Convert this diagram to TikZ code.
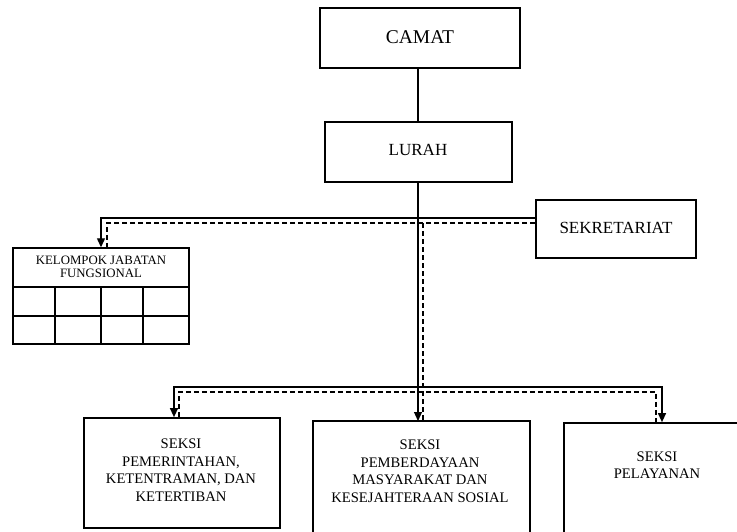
\documentclass[tikz,border=0pt]{standalone}
\usepackage{fontspec}
\setmainfont{Liberation Serif}
\usetikzlibrary{arrows.meta}
\tikzset{
  orgbox/.style={draw, line width=1.7pt, inner sep=0pt},
  conn/.style={line width=1.2pt},
  dconn/.style={line width=1.2pt, dash pattern=on 5pt off 3pt},
  tip/.style={-{Triangle[width=8pt,length=9pt]}},
  bigtxt/.style={font=\fontsize{19.5}{22}\selectfont},
  midtxt/.style={font=\fontsize{17}{20}\selectfont},
  smalltxt/.style={align=center, font=\fontsize{12.8}{13}\selectfont},
  seksitxt/.style={align=center, font=\fontsize{14.6}{17.5}\selectfont},
}
\begin{document}
\begin{tikzpicture}[x=1pt,y=-1pt]
\useasboundingbox[fill=white] (0,0) rectangle (737,532);
\clip (0,0) rectangle (737,532);
% top boxes
\node[orgbox, minimum width=200pt, minimum height=60pt] (camat) at (420,38) {};
\node[bigtxt] (camatt) at (420,37) {CAMAT};
\node[orgbox, minimum width=187pt, minimum height=60pt] (lurah) at (418.5,152) {};
\node[midtxt] (luraht) at (418,150) {LURAH};
\node[orgbox, minimum width=160pt, minimum height=58pt] (sek) at (616,229) {};
\node[midtxt] (sekt) at (616,228) {SEKRETARIAT};
% kelompok jabatan fungsional
\node[orgbox, line width=1.4pt, minimum width=176pt, minimum height=96pt] (kel) at (101,296) {};
\node[smalltxt] (kelt) at (101,267) {KELOMPOK JABATAN\\FUNGSIONAL};
\draw[line width=1.4pt] (kel.west |- 0,287) -- (kel.east |- 0,287);
\draw[line width=1.4pt] (kel.west |- 0,316) -- (kel.east |- 0,316);
\foreach \gx in {55,101,143} {
  \draw[line width=1.4pt] (\gx,287) -- (\gx,344);
}
% seksi boxes
\node[orgbox, minimum width=196pt, minimum height=110pt] (box1) at (182,473) {};
\node[seksitxt] (t1) at (181,470) {SEKSI\\PEMERINTAHAN,\\KETENTRAMAN, DAN\\KETERTIBAN};
\node[orgbox, minimum width=217pt, minimum height=124pt] (box2) at (421.5,483) {};
\node[seksitxt] (t2) at (420,471) {SEKSI\\PEMBERDAYAAN\\MASYARAKAT DAN\\KESEJAHTERAAN SOSIAL};
\node[orgbox, minimum width=186pt, minimum height=122pt] (box3) at (657,484) {};
\node[seksitxt] (t3) at (657,465) {SEKSI\\PELAYANAN};
% connectors
\draw[conn] (lurah.north -| 418,0) -- (418,68);
\draw[conn, tip] (418,182) -- (418,421);
\coordinate (kA) at (101,218);
\coordinate (kB) at (107,223);
\draw[conn, tip] (sek.west |- kA) -- (kA) -- (kA |- kel.north);
\draw[dconn] (sek.west |- kB) -- (kB) -- (kB |- kel.north);
\coordinate (vB) at (423,223);
\draw[dconn] (vB) -- (vB |- box2.north);
\coordinate (bL) at (174,387);
\coordinate (bR) at (662,387);
\draw[conn, {Triangle[width=8pt,length=9pt]}-{Triangle[width=8pt,length=9pt]}] (bL |- box1.north) -- (bL) -- (bR) -- (bR |- box3.north);
\coordinate (dL) at (179,392);
\coordinate (dR) at (656,392);
\draw[dconn] (dL |- box1.north) -- (dL) -- (dR) -- (dR |- box3.north);
\end{tikzpicture}
\end{document}
